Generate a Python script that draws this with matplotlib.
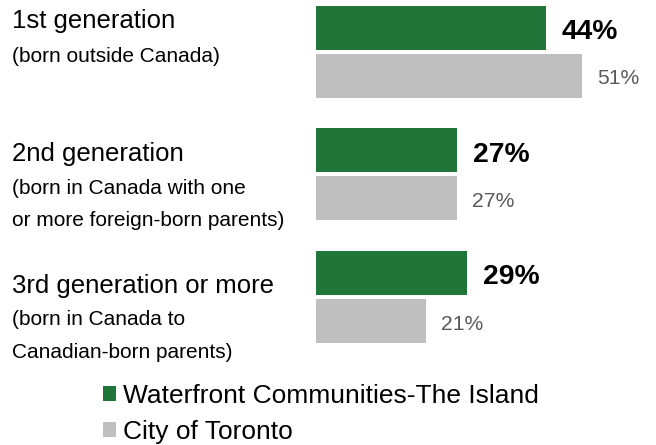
import matplotlib
matplotlib.use('Agg')
import matplotlib.pyplot as plt
import numpy as np

plt.rcParams['font.family'] = ['Liberation Sans', 'DejaVu Sans']

# data
headlines = ['1st generation', '2nd generation', '3rd generation or more']
sublines = [['(born outside Canada)'],
            ['(born in Canada with one', 'or more foreign-born parents)'],
            ['(born in Canada to', 'Canadian-born parents)']]
waterfront = [44, 27, 29]
toronto = [51, 27, 21]
series_names = ['Waterfront Communities-The Island', 'City of Toronto']

GREEN = '#1f7638'
GREY = '#bfbfbf'
W, H = 656, 445

fig = plt.figure(figsize=(W / 100, H / 100), dpi=100)
# axes starts where bars start, y in pixel rows (top = 0)
ax = fig.add_axes([316 / W, 0, (W - 316) / W, 1])
ax.set_xlim(0, (W - 316) / 5.22)
ax.set_ylim(H, 0)
ax.axis('off')

pitch = 122.7
group_y = 27.5 + pitch * np.arange(len(headlines))
bar_h = 44

b1 = ax.barh(group_y, waterfront, height=bar_h, color=GREEN, left=0)
b2 = ax.barh(group_y + 48, toronto, height=bar_h, color=GREY, left=0)

for rect, v in zip(b1, waterfront):
    ax.annotate(f'{v}%', (rect.get_width(), rect.get_y() + rect.get_height() / 2),
                xytext=(11.5, -8.3), textcoords='offset points',
                ha='left', va='baseline', fontsize=20.3, fontweight='bold', color='black')
for rect, v in zip(b2, toronto):
    ax.annotate(f'{v}%', (rect.get_width(), rect.get_y() + rect.get_height() / 2),
                xytext=(11, -6.4), textcoords='offset points',
                ha='left', va='baseline', fontsize=15.2, color='#595959')

# left category text (pixel baselines)
head_base = [28.3, 160.7, 293.3]
sub_base = [[62], [194, 226], [325, 358]]
for head, hb, subs, sbs in zip(headlines, head_base, sublines, sub_base):
    fig.text(12 / W, 1 - hb / H, head, fontsize=18.5, va='baseline', ha='left')
    for s, sb in zip(subs, sbs):
        fig.text(12 / W, 1 - sb / H, s, fontsize=15, va='baseline', ha='left')

leg = fig.legend([b1, b2], series_names, loc='upper left',
                 bbox_to_anchor=(103 / W, 1 - 384 / H), frameon=False,
                 fontsize=19, handlelength=0.49, handleheight=0.49,
                 handletextpad=0.25, labelspacing=0.45, borderpad=0,
                 borderaxespad=0)

fig.savefig('out.png', dpi=100)
